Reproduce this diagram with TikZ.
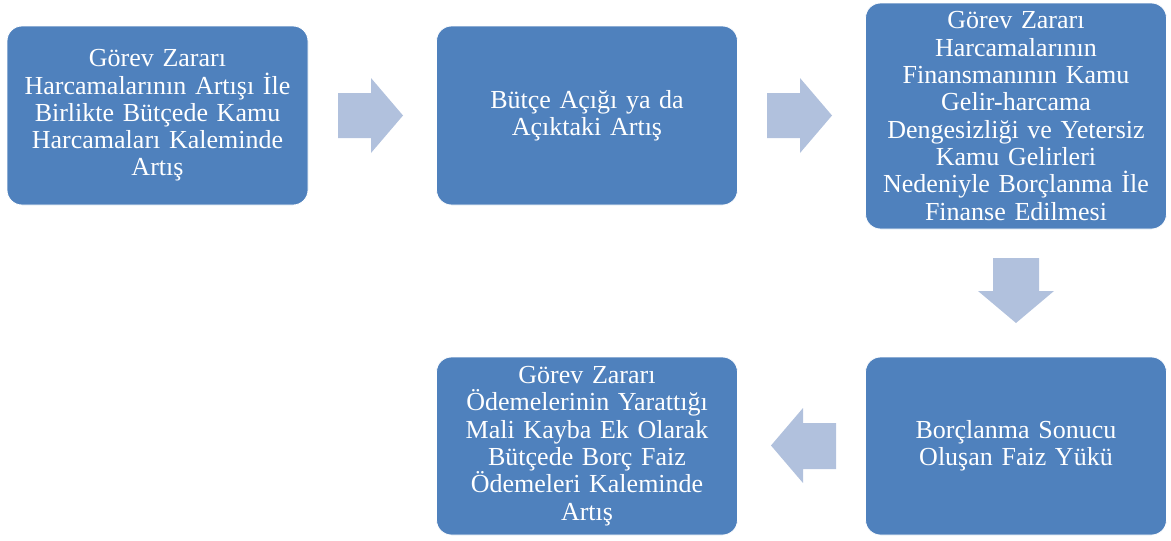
\documentclass[tikz,border=0pt]{standalone}
\usepackage{fontspec}
\setmainfont{Liberation Serif}
\definecolor{boxblue}{HTML}{4F81BD}
\definecolor{arrowblue}{HTML}{B1C1DD}
\begin{document}
\begin{tikzpicture}[x=1pt,y=-1pt,
  box/.style={draw=white, line width=0.8pt, fill=boxblue, rounded corners=15pt,
    text=white, align=center, text width=295pt, inner sep=0pt,
    minimum width=301pt, font=\fontsize{26}{27.3}\selectfont},
  blockarrow/.style={fill=arrowblue, draw=none}]
\useasboundingbox (0,0) rectangle (1171,541);
\node[box, minimum height=179pt] (b1) at (157.5,115.5)
  {Görev Zararı\\Harcamalarının Artışı İle\\Birlikte Bütçede Kamu\\Harcamaları Kaleminde\\Artış};
\node[box, minimum height=179pt] (b2) at (587,115.5)
  {Bütçe Açığı ya da\\Açıktaki Artış};
\node[box, minimum height=226pt] (b3) at (1016,116)
  {Görev Zararı\\Harcamalarının\\Finansmanının Kamu\\Gelir-harcama\\Dengesizliği ve Yetersiz\\Kamu Gelirleri\\Nedeniyle Borçlanma İle\\Finanse Edilmesi};
\node[box, minimum height=178pt] (b4) at (1016,446)
  {Borçlanma Sonucu\\Oluşan Faiz Yükü};
\node[box, minimum height=178pt] (b5) at (587,446)
  {Görev Zararı\\Ödemelerinin Yarattığı\\Mali Kayba Ek Olarak\\Bütçede Borç Faiz\\Ödemeleri Kaleminde\\Artış};
% block arrows
\fill[blockarrow] (338,93) -- (371,93) -- (371,78) -- (403,115.5) -- (371,153) -- (371,138) -- (338,138) -- cycle;
\fill[blockarrow] (767,93) -- (800,93) -- (800,78) -- (832,115.5) -- (800,153) -- (800,138) -- (767,138) -- cycle;
\fill[blockarrow] (993,258) -- (1039,258) -- (1039,291) -- (1054,291) -- (1016,323) -- (978,291) -- (993,291) -- cycle;
\fill[blockarrow] (836,423) -- (803,423) -- (803,408) -- (771,445.5) -- (803,483) -- (803,469) -- (836,469) -- cycle;
\end{tikzpicture}
\end{document}
